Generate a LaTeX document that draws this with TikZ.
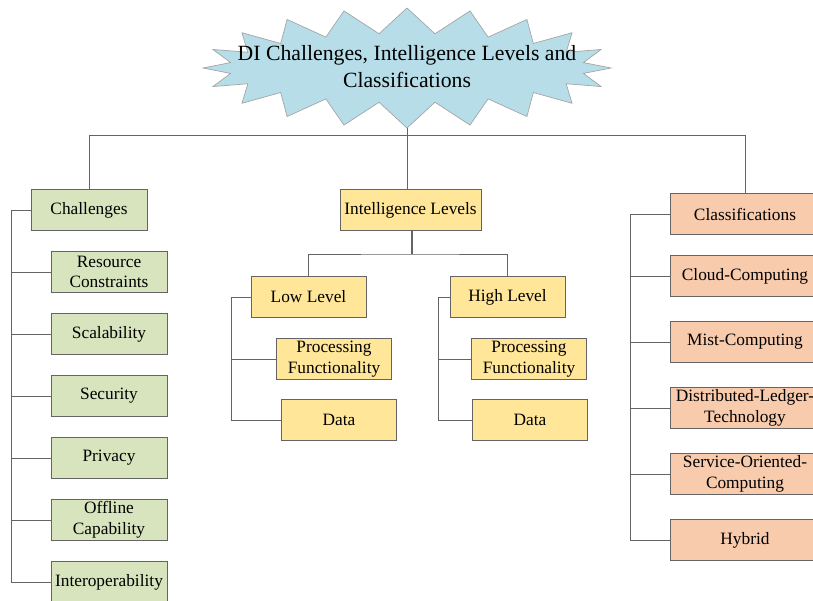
\documentclass[tikz,border=0pt]{standalone}
\usepackage{fontspec}
\setmainfont{Liberation Serif}
\usetikzlibrary{shapes.symbols}

\definecolor{burstblue}{RGB}{183,222,232}
\definecolor{chalgreen}{RGB}{215,228,189}
\definecolor{levyellow}{RGB}{255,230,153}
\definecolor{clspeach}{RGB}{248,203,173}
\definecolor{edgegray}{RGB}{100,100,100}

\begin{document}
\begin{tikzpicture}[x=0.75pt,y=-0.75pt,line width=0.75pt,
    box/.style={draw=edgegray,inner sep=0pt,align=center,minimum height=30.75pt,
                font=\fontsize{13}{15.5}\selectfont},
    chalbox/.style={box,fill=chalgreen,minimum width=87pt},
    levbox/.style={box,fill=levyellow,minimum width=86.25pt},
    clsbox/.style={box,fill=clspeach,minimum width=112.5pt},
    link/.style={draw=edgegray}]
            \useasboundingbox (0,0) rectangle (813,600);
            \clip (0,0) rectangle (813,600);
            % title
            \node[starburst,starburst points=20,starburst point height=19pt,random starburst=0,
                  fill=burstblue,draw=edgegray!60,line width=0.5pt,minimum width=306pt,minimum height=90pt,
                  inner sep=0pt] (burst) at (407,68) {};
            \node[align=center,font=\fontsize{16.3}{20.3}\selectfont] (title) at (407,67)
                  {DI Challenges, Intelligence Levels and\\Classifications};
            % challenges
            \node[chalbox] (chal) at (89,210) {Challenges};
            \node[chalbox] (c1) at (109,272) {Resource\\Constraints};
            \node[chalbox] (c2) at (109,334) {Scalability};
            \node[chalbox] (c3) at (109,396) {Security};
            \node[chalbox] (c4) at (109,458) {Privacy};
            \node[chalbox] (c5) at (109,520) {Offline\\Capability};
            \node[chalbox] (c6) at (109,582) {Interoperability};
            % intelligence levels
            \node[levbox,minimum width=105.75pt] (lev) at (410.5,210) {Intelligence Levels};
            \node[levbox] (low) at (308.5,297) {Low Level};
            \node[levbox] (high) at (507.5,297) {High Level};
            \node[levbox] (lowproc) at (334,359) {Processing\\Functionality};
            \node[levbox] (lowdata) at (339,420) {Data};
            \node[levbox] (highproc) at (529,359) {Processing\\Functionality};
            \node[levbox] (highdata) at (530,420) {Data};
            % classifications
            \node[clsbox] (cls) at (745,214) {Classifications};
            \node[clsbox] (k1) at (745,276) {Cloud-Computing};
            \node[clsbox] (k2) at (745,342) {Mist-Computing};
            \node[clsbox] (k3) at (745,408) {Distributed-Ledger-\\Technology};
            \node[clsbox] (k4) at (745,474) {Service-Oriented-\\Computing};
            \node[clsbox] (k5) at (745,540) {Hybrid};
            % connectors
            \coordinate (top) at (407,135);
            \coordinate (ctrunk) at (11,210);
            \coordinate (lowtrunk) at (231,297);
            \coordinate (hightrunk) at (438,297);
            \coordinate (ktrunk) at (630,214);
            \coordinate (levbar) at (412,254);
            \draw[link] (burst.south) -- (top) -| (chal.north);
            \draw[link] (top) -| (cls.north);
            \draw[link] (top) -- (top |- lev.north);
            \draw[link,line width=2pt] (levbar |- lev.south) -- (levbar);
            \draw[link] (low.north) |- (levbar) -| (high.north);
            \draw[link] (chal.west) -- (ctrunk) |- (c6.west);
            \foreach \n in {c1,c2,c3,c4,c5}
              \draw[link] (ctrunk |- \n.west) -- (\n.west);
            \draw[link] (low.west) -- (lowtrunk) |- (lowdata.west);
            \draw[link] (lowtrunk |- lowproc.west) -- (lowproc.west);
            \draw[link] (high.west) -- (hightrunk) |- (highdata.west);
            \draw[link] (hightrunk |- highproc.west) -- (highproc.west);
            \draw[link] (cls.west) -- (ktrunk) |- (k5.west);
            \foreach \n in {k1,k2,k3,k4}
              \draw[link] (ktrunk |- \n.west) -- (\n.west);
\end{tikzpicture}
\end{document}
